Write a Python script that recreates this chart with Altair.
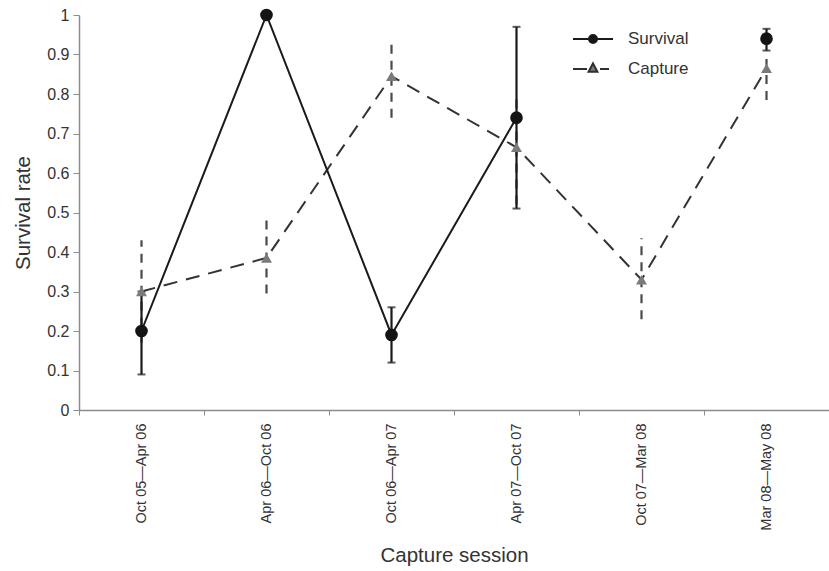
import altair as alt
import pandas as pd

sessions = ["Oct 05—Apr 06", "Apr 06—Oct 06", "Oct 06—Apr 07",
            "Apr 07—Oct 07", "Oct 07—Mar 08", "Mar 08—May 08"]
survival = [0.20, 1.00, 0.19, 0.74, None, 0.94]
survival_lo = [0.09, None, 0.12, 0.51, None, 0.91]
survival_hi = [0.30, None, 0.26, 0.97, None, 0.965]
capture = [0.30, 0.385, 0.845, 0.665, 0.33, 0.865]
capture_lo = [0.17, 0.295, 0.74, 0.52, 0.23, 0.785]
capture_hi = [0.43, 0.495, 0.94, 0.79, 0.435, 0.90]
y_ticks = [0, 0.1, 0.2, 0.3, 0.4, 0.5, 0.6, 0.7, 0.8, 0.9, 1]
series_names = ["Survival", "Capture"]

rows = []
for i, s in enumerate(sessions):
    rows.append({"session": s, "series": "Survival", "value": survival[i],
                 "lo": survival_lo[i], "hi": survival_hi[i]})
for i, s in enumerate(sessions):
    rows.append({"session": s, "series": "Capture", "value": capture[i],
                 "lo": capture_lo[i], "hi": capture_hi[i]})
df = pd.DataFrame(rows)

FONT = "Liberation Sans"

x_enc = alt.X("session:N", sort=sessions,
              scale=alt.Scale(type="band", paddingInner=0, paddingOuter=0),
              axis=alt.Axis(title="Capture session", labelAngle=270, labelAlign="right",
                            labelBaseline="middle", tickBand="extent", labelPadding=8,
                            titlePadding=15, tickSize=5, labelFontSize=14.5))
y_scale = alt.Scale(domain=[0, 1], nice=False, zero=True)
y_axis = alt.Axis(title="Survival rate", values=y_ticks, format="~g", tickSize=6,
                  labelPadding=4, titlePadding=13, labelFontSize=16)

def yf(field):
    return alt.Y(field, scale=y_scale, axis=y_axis)

base = alt.Chart(df)
surv = base.transform_filter("datum.series === 'Survival'")
capt = base.transform_filter("datum.series === 'Capture'")

cap_err = capt.mark_rule(
    color="#4a4a4a", strokeWidth=2.2, strokeDash=[9, 7]
).encode(x=x_enc, y=yf("lo:Q"), y2="hi:Q")

surv_err = surv.transform_filter("isValid(datum.lo)").mark_rule(
    color="#1a1a1a", strokeWidth=2.2
).encode(x=x_enc, y=yf("lo:Q"), y2="hi:Q")

surv_cap_lo = surv.transform_filter("isValid(datum.lo)").mark_tick(
    color="#1a1a1a", orient="horizontal", size=8, thickness=2
).encode(x=x_enc, y=yf("lo:Q"))

surv_cap_hi = surv.transform_filter("isValid(datum.hi)").mark_tick(
    color="#1a1a1a", orient="horizontal", size=8, thickness=2
).encode(x=x_enc, y=yf("hi:Q"))

cap_line = capt.mark_line(
    color="#333333", strokeWidth=2, strokeDash=[14, 9]
).encode(x=x_enc, y=yf("value:Q"))

surv_line = surv.mark_line(
    color="#1a1a1a", strokeWidth=2
).encode(x=x_enc, y=yf("value:Q"))

cap_pts = capt.mark_point(filled=True, opacity=1, shape="triangle-up", size=120,
                          color="#7a7a7a").encode(x=x_enc, y=yf("value:Q"))
surv_pts = surv.transform_filter("isValid(datum.value)").mark_point(
    filled=True, opacity=1, shape="circle", size=160, color="#141414"
).encode(x=x_enc, y=yf("value:Q"))

surv_path = "M-1,0H1M-0.2,0A0.2,0.2,0,1,0,0.2,0A0.2,0.2,0,1,0,-0.2,0Z"
cap_path = "M-1,0H-0.3M0.35,0H0.8M-0.22,0.14L0,-0.28L0.22,0.14Z"

legend = alt.Legend(
    orient="none", legendX=493, legendY=3, title=None,
    symbolSize=1600, labelFontSize=17, labelColor="#333333", labelFont=FONT,
    labelOffset=14, padding=0, rowPadding=1, symbolOpacity=1,
    symbolStrokeWidth=2,
)

legend_layer = base.transform_filter("isValid(datum.value)").mark_point(
    filled=True, opacity=0, strokeWidth=2
).encode(
    x=x_enc, y=yf("value:Q"),
    shape=alt.Shape("series:N", scale=alt.Scale(domain=series_names, range=[surv_path, cap_path]),
                    legend=legend),
    fill=alt.Fill("series:N", scale=alt.Scale(domain=series_names, range=["#141414", "#7a7a7a"]),
                  legend=legend),
    stroke=alt.Stroke("series:N", scale=alt.Scale(domain=series_names, range=["#1a1a1a", "#2e2e2e"]),
                      legend=legend),
)

chart = alt.layer(cap_err, surv_err, surv_cap_lo, surv_cap_hi, cap_line, surv_line,
                  cap_pts, surv_pts, legend_layer).properties(
    width=750, height=395,
    autosize=alt.AutoSizeParams(type="none"),
    padding={"left": 79, "top": 15, "right": 0, "bottom": 161},
).configure_view(stroke=None).configure_axis(
    grid=False, domainColor="#8c8c8c", tickColor="#8c8c8c", domainWidth=1.5,
    labelFont=FONT, titleFont=FONT, titleFontSize=20.5,
    labelColor="#333333", titleColor="#333333", titleFontWeight="normal",
)

chart.save("out.html", embed_options={"renderer": "svg", "actions": False})
